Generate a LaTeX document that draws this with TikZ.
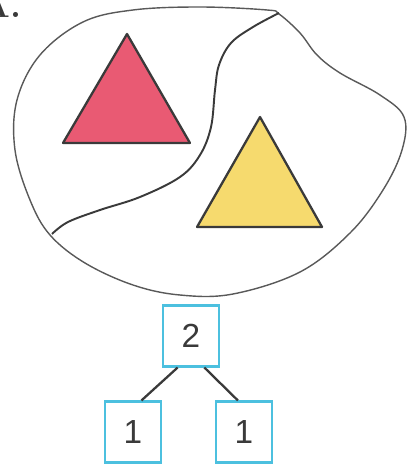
\documentclass[tikz,border=0pt]{standalone}
\usepackage{fontspec}
\setsansfont{Liberation Sans}
\usepackage{tikz}
\usetikzlibrary{positioning}
\definecolor{trired}{HTML}{E95A73}
\definecolor{triyellow}{HTML}{F6DA6E}
\definecolor{boxblue}{HTML}{4CC0DF}
\definecolor{ink}{HTML}{3A3A3A}

\begin{document}
\begin{tikzpicture}[x=0.02cm,y=-0.02cm,
    numbox/.style={draw=boxblue,line width=1.2pt,minimum width=1.13cm,minimum height=1.22cm,
        inner sep=0pt,text=ink,font=\sffamily\fontsize{19}{22}\selectfont},
    branch/.style={draw=ink,line width=1.3pt},
    tri/.style={draw=ink,line width=1.3pt,line join=round}]
    \useasboundingbox (0,0) rectangle (406,465);

    \node[anchor=base east,inner sep=0pt,text=ink,font=\bfseries\fontsize{20}{22}\selectfont] (A) at (22,18) {A.};

    % the set and its cut
    \draw[gray!70!black,line width=0.8pt] plot[smooth cycle,tension=0.6] coordinates {
        (200,7) (267,10) (279,14) (300,33) (317,55) (340,73) (380,95) (404,117) (402,150)
        (383,190) (350,233) (300,272) (233,294) (180,295) (133,285) (85,263) (50,235)
        (30,200) (15,150) (17,100) (40,55) (83,22) (133,10)};
    \draw[ink,line width=1.1pt] plot[smooth,tension=0.6] coordinates {
        (279,13) (253,27) (231,43) (219,65) (215,90) (211,127) (200,155) (180,177)
        (140,197) (100,210) (68,222) (52,234)};

    \filldraw[tri,fill=trired] (127,34) -- (190,143) -- (63,143) -- cycle;
    \filldraw[tri,fill=triyellow] (260,117) -- (322,227) -- (197,227) -- cycle;

    \node[numbox] (two) at (191,336) {2};
    \node[numbox] (oneL) at (133,432) {1};
    \node[numbox] (oneR) at (244,432) {1};

    \draw[branch] (two.247) -- (oneL.75);
    \draw[branch] (two.293) -- (oneR.101);
\end{tikzpicture}
\end{document}
